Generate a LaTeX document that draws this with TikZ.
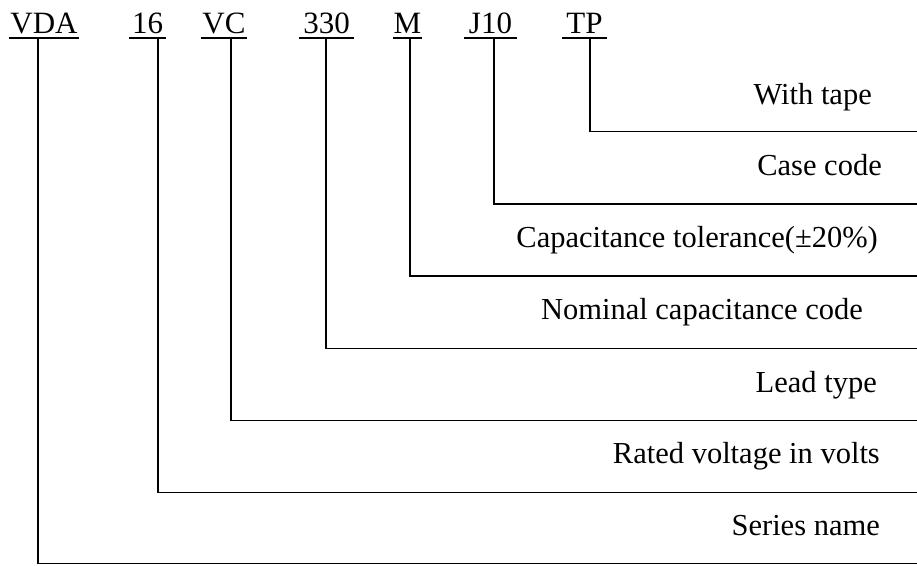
\documentclass[tikz,border=0pt]{standalone}
\usepackage{fontspec}
\setmainfont{Liberation Serif}
\begin{document}
\begin{tikzpicture}[x=1pt,y=-1pt,
  codetxt/.style={inner sep=0pt, anchor=base, font=\fontsize{31}{36}\selectfont},
  labtxt/.style={inner sep=0pt, anchor=base east, font=\fontsize{30.5}{36}\selectfont},
  uline/.style={line width=1.8pt},
  lead/.style={line width=1.6pt}]
\useasboundingbox (0,0) rectangle (917,565);
% codes
\node[codetxt] (vda) at (44,33) {VDA};
\node[codetxt] (n16) at (147.5,33) {16};
\node[codetxt] (vc)  at (224,33) {VC};
\node[codetxt] (n330) at (326.5,33) {330};
\node[codetxt] (m)   at (407.5,33) {M};
\node[codetxt] (j10) at (490.5,33) {J10};
\node[codetxt] (tp)  at (584.5,33) {TP};
% underlines
\draw[uline] (9,38) -- (79,38);
\draw[uline] (129,38) -- (166,38);
\draw[uline] (201,38) -- (247,38);
\draw[uline] (299,38) -- (354,38);
\draw[uline] (393,38) -- (422,38);
\draw[uline] (464,38) -- (517,38);
\draw[uline] (562,38) -- (607,38);
% lead start points
\coordinate (svda) at (38,38);
\coordinate (s16)  at (158,38);
\coordinate (svc)  at (231,38);
\coordinate (s330) at (326,38);
\coordinate (sm)   at (410,38);
\coordinate (sj10) at (494,38);
\coordinate (stp)  at (590,38);
% right ends
\coordinate (etp)  at (917,131.5);
\coordinate (ej10) at (917,204);
\coordinate (em)   at (917,276);
\coordinate (e330) at (917,348.5);
\coordinate (evc)  at (917,420.5);
\coordinate (e16)  at (917,492.5);
\coordinate (evda) at (917,563.5);
\draw[lead] (stp) |- (etp);
\draw[lead] (sj10) |- (ej10);
\draw[lead] (sm) |- (em);
\draw[lead] (s330) |- (e330);
\draw[lead] (svc) |- (evc);
\draw[lead] (s16) |- (e16);
\draw[lead] (svda) |- (evda);
% labels
\node[labtxt] (ltp)  at (872,104) {With tape};
\node[labtxt] (lj10) at (882,175) {Case code};
\node[labtxt] (lm)   at (878,247) {Capacitance tolerance(±20\%)};
\node[labtxt] (l330) at (863,319) {Nominal capacitance code};
\node[labtxt] (lvc)  at (877,392) {Lead type};
\node[labtxt] (l16)  at (880,463.5) {Rated voltage in volts};
\node[labtxt] (lvda) at (880,535) {Series name};
\end{tikzpicture}
\end{document}
